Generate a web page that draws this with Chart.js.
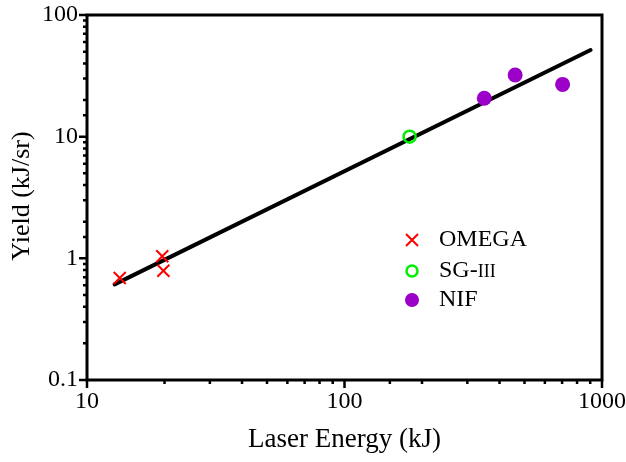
<!DOCTYPE html>
<html>
<head>
<meta charset="utf-8">
<script src="https://cdn.jsdelivr.net/npm/chart.js@4/dist/chart.umd.min.js"></script>
<style>
  html, body { margin: 0; padding: 0; background: #fff; }
  canvas { display: block; }
</style>
</head>
<body>
<canvas id="yieldChart" width="626" height="462"></canvas>
<script>
// ── DATA ───────────────────────────────────────────────────────
const omegaEnergy = [13.4, 19.6, 19.8];
const omegaYield = [0.69, 1.04, 0.79];
const sgEnergy = [179];
const sgYield = [10.0];
const nifEnergy = [349, 460, 703];
const nifYield = [20.7, 32.1, 26.9];
const fitEnergy = [12.8, 903];
const fitYield = [0.611, 51.5];

const xTickLabels = ['10', '100', '1000'];
const yTickLabels = ['0.1', '1', '10', '100'];

const SERIF = "'Liberation Serif', 'Times New Roman', serif";
const toPts = (xs, ys) => xs.map((x, i) => ({ x, y: ys[i] }));
const isDecade = v => Math.abs(Math.log10(v) - Math.round(Math.log10(v))) < 1e-6;

// ── FRAME, TICKS, LABELS ───────────────────────────────────────
const axesPlugin = {
  id: 'axesFrame',
  afterDatasetsDraw(chart) {
    const { ctx, chartArea: a, scales: { x, y } } = chart;
    ctx.save();
    ctx.strokeStyle = '#000';
    ctx.lineWidth = 3;
    ctx.strokeRect(a.left, a.top, a.right - a.left, a.bottom - a.top);

    // tick marks, longer at each decade
    ctx.lineWidth = 2.5;
    ctx.beginPath();
    x.ticks.forEach(t => {
      const px = x.getPixelForValue(t.value);
      ctx.moveTo(px, a.bottom);
      ctx.lineTo(px, a.bottom + (isDecade(t.value) ? 8 : 4));
    });
    y.ticks.forEach(t => {
      const py = y.getPixelForValue(t.value);
      ctx.moveTo(a.left, py);
      ctx.lineTo(a.left - (isDecade(t.value) ? 8 : 4), py);
    });
    ctx.stroke();

    ctx.fillStyle = '#000';
    ctx.font = '24px ' + SERIF;
    ctx.textAlign = 'center';
    ctx.textBaseline = 'middle';
    xTickLabels.forEach(l => ctx.fillText(l, x.getPixelForValue(+l), a.bottom + 22));
    ctx.textAlign = 'right';
    yTickLabels.forEach(l => ctx.fillText(l, a.left - 9, y.getPixelForValue(+l)));

    // axis titles
    ctx.font = '27px ' + SERIF;
    ctx.textAlign = 'center';
    ctx.fillText('Laser Energy (kJ)', (a.left + a.right) / 2, 440);
    ctx.font = '26px ' + SERIF;
    ctx.translate(22, 196);
    ctx.rotate(-Math.PI / 2);
    ctx.fillText('Yield (kJ/sr)', 0, 0);
    ctx.restore();
  }
};

// ── LEGEND ─────────────────────────────────────────────────────
const legendPlugin = {
  id: 'innerLegend',
  afterDatasetsDraw(chart) {
    const ctx = chart.ctx;
    const mx = 412, tx = 439;
    const rows = [240, 271, 300];
    ctx.save();
    // OMEGA cross
    ctx.strokeStyle = '#ff0000';
    ctx.lineWidth = 2;
    ctx.beginPath();
    ctx.moveTo(mx - 6, rows[0] - 6); ctx.lineTo(mx + 6, rows[0] + 6);
    ctx.moveTo(mx + 6, rows[0] - 6); ctx.lineTo(mx - 6, rows[0] + 6);
    ctx.stroke();
    // SG-III open circle
    ctx.strokeStyle = '#00ee00';
    ctx.lineWidth = 2.5;
    ctx.beginPath();
    ctx.arc(mx, rows[1], 5.5, 0, Math.PI * 2);
    ctx.stroke();
    // NIF filled circle
    ctx.fillStyle = '#9b00c8';
    ctx.beginPath();
    ctx.arc(mx, rows[2], 7, 0, Math.PI * 2);
    ctx.fill();

    ctx.fillStyle = '#000';
    ctx.textAlign = 'left';
    ctx.textBaseline = 'middle';
    ctx.font = '24px ' + SERIF;
    ctx.fillText('OMEGA', tx, rows[0]);
    ctx.fillText('SG-', tx, rows[1]);
    const w = ctx.measureText('SG-').width;
    ctx.font = '18px ' + SERIF;
    ctx.fillText('III', tx + w, rows[1] + 1);
    ctx.font = '24px ' + SERIF;
    ctx.fillText('NIF', tx, rows[2]);
    ctx.restore();
  }
};

// ── CHART ──────────────────────────────────────────────────────
new Chart(document.getElementById('yieldChart'), {
  type: 'scatter',
  data: {
    datasets: [
      {
        label: 'OMEGA',
        data: toPts(omegaEnergy, omegaYield),
        pointStyle: 'crossRot',
        pointRadius: 8.5,
        borderColor: '#ff0000',
        borderWidth: 2,
      },
      {
        label: 'SG-III',
        data: toPts(sgEnergy, sgYield),
        pointStyle: 'circle',
        pointRadius: 6,
        backgroundColor: 'rgba(0,0,0,0)',
        borderColor: '#00ee00',
        borderWidth: 2.5,
      },
      {
        label: 'NIF',
        data: toPts(nifEnergy, nifYield),
        pointStyle: 'circle',
        pointRadius: 7.5,
        backgroundColor: '#9b00c8',
        borderColor: '#9b00c8',
        borderWidth: 0,
      },
      {
        label: 'Fit',
        type: 'line',
        data: toPts(fitEnergy, fitYield),
        borderColor: '#000',
        borderWidth: 4,
        borderCapStyle: 'round',
        pointRadius: 0,
        showLine: true,
      },
    ],
  },
  options: {
    responsive: false,
    animation: false,
    layout: { padding: { left: 0, right: 24, top: 15, bottom: 0 } },
    scales: {
      x: {
        type: 'logarithmic',
        min: 10,
        max: 1000,
        grid: { display: false },
        border: { display: false },
        ticks: { display: false },
        afterFit: s => { s.height = 82; },
      },
      y: {
        type: 'logarithmic',
        min: 0.1,
        max: 100,
        grid: { display: false },
        border: { display: false },
        ticks: { display: false },
        afterFit: s => { s.width = 87; },
      },
    },
    plugins: {
      legend: { display: false },
      tooltip: { enabled: false },
    },
  },
  plugins: [axesPlugin, legendPlugin],
});
</script>
</body>
</html>
